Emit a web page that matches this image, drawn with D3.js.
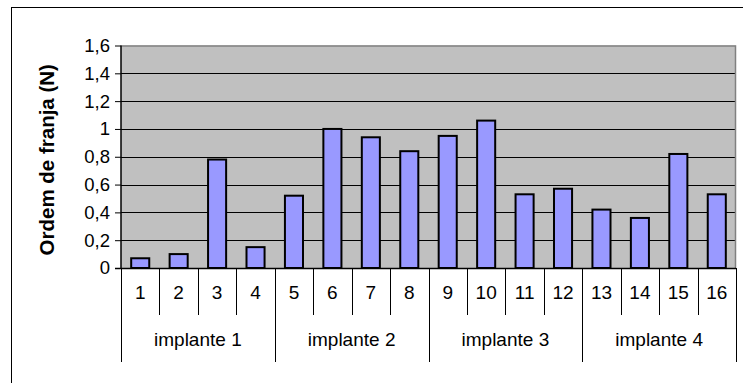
<!DOCTYPE html>
<html>
<head>
<meta charset="utf-8">
<script src="https://cdn.jsdelivr.net/npm/d3@7"></script>
<style>
  body { margin: 0; background: #fff; }
  svg { display: block; font-family: Arial, "Liberation Sans", sans-serif; }
</style>
</head>
<body>
<svg id="chart" width="743" height="383"></svg>
<script>
// data
var categories = ["1","2","3","4","5","6","7","8","9","10","11","12","13","14","15","16"];
var values = [0.07, 0.10, 0.78, 0.15, 0.52, 1.00, 0.94, 0.84, 0.95, 1.06, 0.53, 0.57, 0.42, 0.36, 0.82, 0.53];
var groups = ["implante 1", "implante 2", "implante 3", "implante 4"];
var yTicks = [0, 0.2, 0.4, 0.6, 0.8, 1, 1.2, 1.4, 1.6];
var yTitle = "Ordem de franja (N)";

var svg = d3.select("#chart");
var plot = {left: 121, right: 736, top: 45.5, bottom: 268};
var rowH = 47;

// outer chart border
svg.append("rect")
  .attr("x", 11.5).attr("y", 7.5)
  .attr("width", 760).attr("height", 400)
  .attr("fill", "#fff").attr("stroke", "#000").attr("stroke-width", 1);

var x = d3.scaleBand().domain(categories).range([plot.left, plot.right]).padding(0);
var y = d3.scaleLinear().domain([0, 1.6]).range([plot.bottom, plot.top]);

// plot background
svg.append("rect")
  .attr("x", plot.left).attr("y", plot.top)
  .attr("width", plot.right - plot.left).attr("height", plot.bottom - plot.top)
  .attr("fill", "#c0c0c0");

// gridlines
svg.append("g").selectAll("line")
  .data(yTicks.filter(d => d > 0 && d < 1.6))
  .enter().append("line")
  .attr("x1", plot.left).attr("x2", plot.right)
  .attr("y1", d => Math.round(y(d)) + 0.5).attr("y2", d => Math.round(y(d)) + 0.5)
  .attr("stroke", "#000").attr("stroke-width", 1);

// grey plot border top/right
svg.append("path")
  .attr("d", "M" + plot.left + "," + (plot.top + 0.5) + "H" + (plot.right - 0.5) + "V" + plot.bottom)
  .attr("fill", "none").attr("stroke", "#808080").attr("stroke-width", 1.5);

// bars
var barW = x.bandwidth() * 0.47;
svg.append("g").selectAll("rect")
  .data(values)
  .enter().append("rect")
  .attr("x", (d, i) => x(categories[i]) + (x.bandwidth() - barW) / 2)
  .attr("y", d => y(d))
  .attr("width", barW)
  .attr("height", d => y(0) - y(d))
  .attr("fill", "#9999ff")
  .attr("stroke", "#000")
  .attr("stroke-width", 2);

// y axis
var yAxis = d3.axisLeft(y)
  .tickValues(yTicks)
  .tickSize(6)
  .tickPadding(5)
  .tickFormat(d => d3.format(".1~f")(d).replace(".", ","));

var yg = svg.append("g")
  .attr("transform", "translate(" + plot.left + ",0)")
  .call(yAxis);
yg.select(".domain").attr("stroke", "#000").attr("stroke-width", 1.5).attr("d", "M0," + plot.top + "V" + plot.bottom);
yg.selectAll(".tick line").attr("stroke", "#000");
yg.selectAll("text").attr("font-size", 18.5).attr("fill", "#000").attr("font-family", "Arial, 'Liberation Sans', sans-serif");

// y title
svg.append("text")
  .attr("transform", "translate(47," + ((plot.top + plot.bottom) / 2 + 3) + ") rotate(-90)")
  .attr("text-anchor", "middle")
  .attr("dy", "0.35em")
  .attr("font-weight", "bold")
  .attr("font-size", 20.5)
  .text(yTitle);

// category axis
var cat = svg.append("g");
cat.append("line")
  .attr("x1", plot.left - 6).attr("x2", plot.right)
  .attr("y1", plot.bottom + 0.5).attr("y2", plot.bottom + 0.5)
  .attr("stroke", "#000").attr("stroke-width", 1.5);

// separators: every category boundary in row 1, group boundaries through row 2
var bounds = d3.range(categories.length + 1);
cat.selectAll("line.sep")
  .data(bounds)
  .enter().append("line")
  .attr("class", "sep")
  .attr("x1", i => Math.round(plot.left + i * x.step()) + 0.5)
  .attr("x2", i => Math.round(plot.left + i * x.step()) + 0.5)
  .attr("y1", plot.bottom)
  .attr("y2", i => i % 4 === 0 ? plot.bottom + rowH * 2 : plot.bottom + rowH)
  .attr("stroke", "#000").attr("stroke-width", 1);

cat.selectAll("text.num")
  .data(categories)
  .enter().append("text")
  .attr("class", "num")
  .attr("x", d => x(d) + x.bandwidth() / 2)
  .attr("y", plot.bottom + rowH / 2 + 7)
  .attr("text-anchor", "middle")
  .attr("font-size", 19)
  .text(d => d);

cat.selectAll("text.grp")
  .data(groups)
  .enter().append("text")
  .attr("class", "grp")
  .attr("x", (d, i) => plot.left + (i * 4 + 2) * x.step())
  .attr("y", plot.bottom + rowH * 1.5 + 7)
  .attr("text-anchor", "middle")
  .attr("font-size", 19)
  .text(d => d);
</script>
</body>
</html>
